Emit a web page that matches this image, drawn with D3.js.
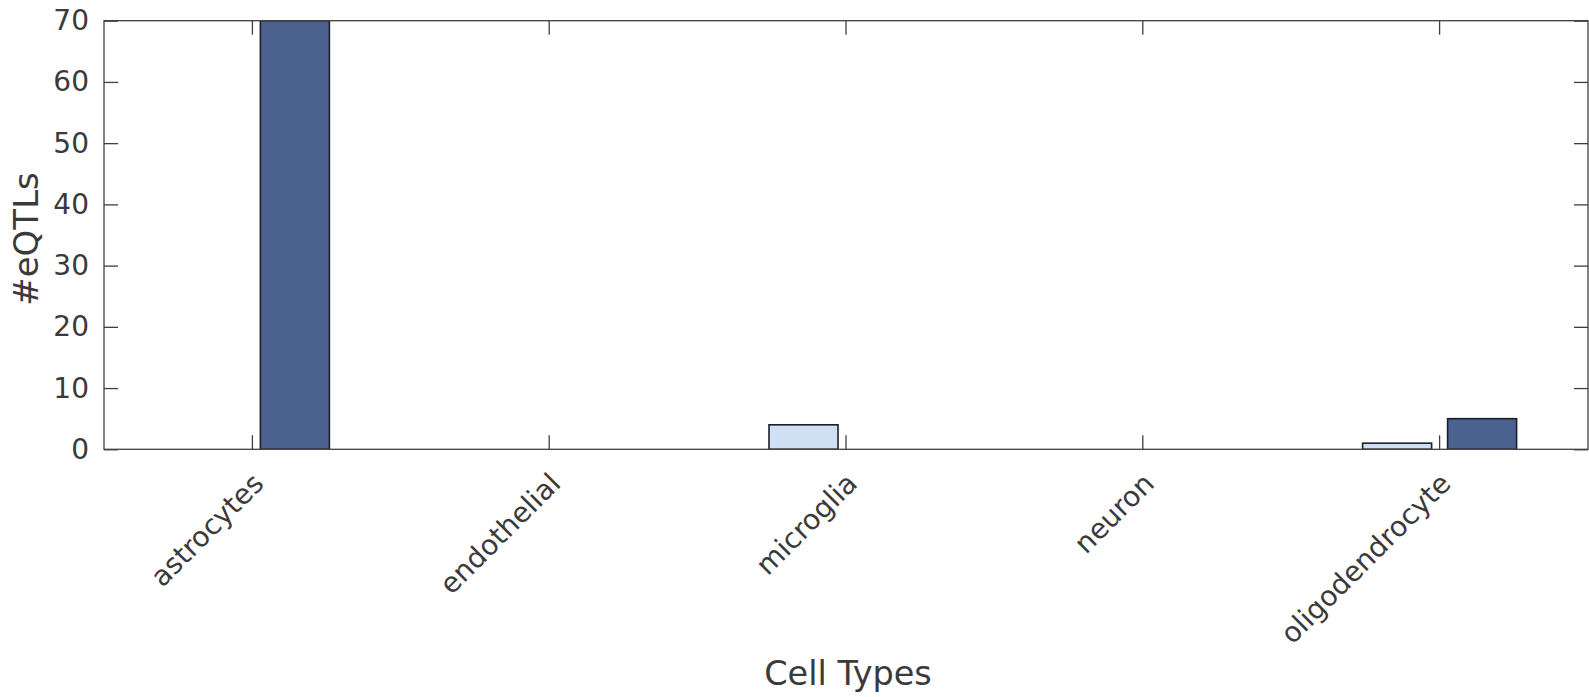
<!DOCTYPE html>
<html>
<head>
<meta charset="utf-8">
<script src="https://cdn.jsdelivr.net/npm/d3@7"></script>
<style>
  html, body { margin: 0; padding: 0; background: #fff; }
  svg { display: block; }
  text { font-family: "DejaVu Sans", sans-serif; fill: #3a3a3a; }
</style>
</head>
<body>
<svg id="chart" width="1589" height="697"></svg>
<script>
// ---- data ----
const categories = ["astrocytes", "endothelial", "microglia", "neuron", "oligodendrocyte"];
const seriesNames = ["series1", "series2"];
const series1 = [0, 0, 4, 0, 1];
const series2 = [70, 0, 0, 0, 5];
const yTicks = [0, 10, 20, 30, 40, 50, 60, 70];
const xLabel = "Cell Types";
const yLabel = "#eQTLs";
const seriesColors = ["#cfe0f5", "#4b6190"];

// ---- layout ----
const W = 1589, H = 697;
const m = { left: 104, right: 1, top: 20.7, bottom: 247.7 };
const x0 = m.left, x1 = W - m.right, y0 = H - m.bottom, y1 = m.top;

const svg = d3.select("#chart");

const x = d3.scaleBand().domain(categories).range([x0, x1]).padding(0);
const bw = x.bandwidth();
const xs = d3.scaleBand().domain(seriesNames)
  .range([bw / 2 - 77, bw / 2 + 77]).paddingInner(0.188).paddingOuter(0);
const y = d3.scaleLinear().domain([0, 70]).range([y0, y1]);

const rows = categories.map((c, i) => ({ c, vals: [series1[i], series2[i]] }));

// clip
svg.append("clipPath").attr("id", "clip").append("rect")
  .attr("x", x0).attr("y", y1).attr("width", x1 - x0).attr("height", y0 - y1);

// bars
const g = svg.append("g").attr("clip-path", "url(#clip)");
g.selectAll("g.grp").data(rows).join("g")
  .attr("transform", d => `translate(${x(d.c)},0)`)
  .selectAll("rect").data(d => d.vals.map((v, j) => ({ v, s: seriesNames[j], j })))
  .join("rect")
  .attr("x", d => xs(d.s))
  .attr("width", xs.bandwidth())
  .attr("y", d => y(d.v))
  .attr("height", d => y(0) - y(d.v))
  .attr("fill", d => seriesColors[d.j])
  .attr("stroke", "#1c1f26")
  .attr("stroke-width", 1.6);

const axisColor = "#3f3f3f";
const tickLen = 14;

// axes with inward ticks
const yAxisL = d3.axisLeft(y).tickValues(yTicks).tickSizeInner(-tickLen).tickSizeOuter(0).tickPadding(15);
const yAxisR = d3.axisRight(y).tickValues(yTicks).tickSizeInner(-tickLen).tickSizeOuter(0).tickFormat("");
const xAxisB = d3.axisBottom(x).tickSizeInner(-tickLen).tickSizeOuter(0).tickFormat("");
const xAxisT = d3.axisTop(x).tickSizeInner(-tickLen).tickSizeOuter(0).tickFormat("");

function style(sel) {
  sel.selectAll("path.domain").remove();
  sel.selectAll("line").attr("stroke", axisColor).attr("stroke-width", 1.3);
}

const gl = svg.append("g").attr("transform", `translate(${x0},0)`).call(yAxisL).call(style);
gl.selectAll("text").attr("font-size", 28).attr("font-family", "DejaVu Sans").attr("fill", "#3a3a3a");
svg.append("g").attr("transform", `translate(${x1},0)`).call(yAxisR).call(style);
svg.append("g").attr("transform", `translate(0,${y0})`).call(xAxisB).call(style);
svg.append("g").attr("transform", `translate(0,${y1})`).call(xAxisT).call(style);

// box
svg.append("rect").attr("x", x0).attr("y", y1).attr("width", x1 - x0).attr("height", y0 - y1)
  .attr("fill", "none").attr("stroke", axisColor).attr("stroke-width", 1.3);

// rotated x tick labels
svg.append("g").selectAll("text").data(categories).join("text")
  .attr("transform", d => `translate(${x(d) + bw / 2 + 6},${y0 + 29}) rotate(-45)`)
  .attr("text-anchor", "end")
  .attr("dy", "0.35em")
  .attr("font-size", 28)
  .text(d => d);

// axis labels
svg.append("text").attr("x", (x0 + x1) / 2 + 2).attr("y", 685)
  .attr("text-anchor", "middle").attr("font-size", 33.5).text(xLabel);
svg.append("text")
  .attr("transform", `translate(38,239) rotate(-90)`)
  .attr("text-anchor", "middle").attr("font-size", 34).text(yLabel);
</script>
</body>
</html>
